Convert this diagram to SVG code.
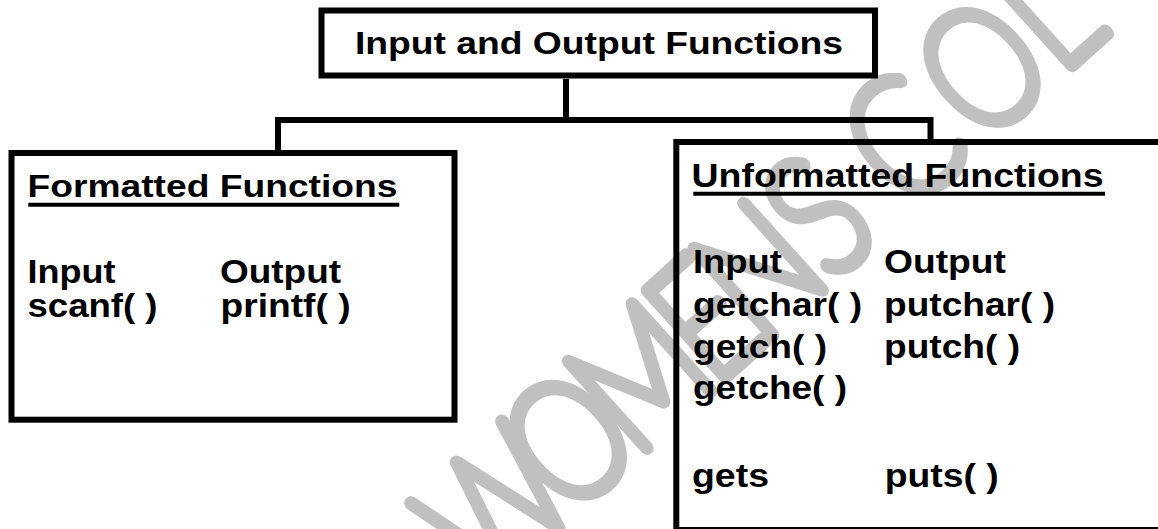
<svg xmlns="http://www.w3.org/2000/svg" width="1158" height="529" viewBox="0 0 1158 529">
  <style>
    .box { fill: none; stroke: #000; stroke-width: 6; }
    .wire { fill: none; stroke: #000; stroke-width: 6; stroke-linejoin: miter; }
    .t { font-family: "Liberation Sans", Arial, sans-serif; font-weight: bold; fill: #000; }
    .body { font-size: 32.5px; }
    .uline { stroke: #000; stroke-width: 4; }
    .mark { font-family: Lato, Inter, Roboto, sans-serif; font-weight: 100; font-size: 132px;
            fill: #c0c0c0; stroke: #c0c0c0; stroke-width: 12; stroke-linejoin: round; stroke-linecap: round; }
  </style>

  <rect width="1158" height="529" fill="#fff"/>

  <!-- background watermark, letters placed along a diagonal baseline -->
  <g id="watermark" transform="translate(567 440) rotate(-42) scale(1 1.25)">
    <text class="mark" x="-163 -51 38 144 207 302 370 406 506 610" y="47">WOMENS COL</text>
  </g>

  <!-- connectors -->
  <g id="connectors">
    <path class="wire" d="M566 79 V120"/>
    <path class="wire" d="M278 153 V120 H930.5 V142"/>
  </g>

  <g id="root">
    <rect class="box" x="321.5" y="10.5" width="553.5" height="65"/>
    <text class="t" x="355" y="54" font-size="31" textLength="488" lengthAdjust="spacingAndGlyphs">Input and Output Functions</text>
  </g>

  <g id="formatted">
    <rect class="box" x="11.5" y="153" width="443" height="266.7"/>
    <text class="t" x="27.5" y="197.3" font-size="31" textLength="370" lengthAdjust="spacingAndGlyphs">Formatted Functions</text>
    <line class="uline" x1="28.3" y1="204.7" x2="399.3" y2="204.7"/>
    <text class="t body" x="27.5" y="282.7" textLength="88" lengthAdjust="spacingAndGlyphs">Input</text>
    <text class="t body" x="220" y="282.7" textLength="121" lengthAdjust="spacingAndGlyphs">Output</text>
    <text class="t body" x="27.5" y="316.7" textLength="130" lengthAdjust="spacingAndGlyphs">scanf( )</text>
    <text class="t body" x="220.5" y="316.7" textLength="130" lengthAdjust="spacingAndGlyphs">printf( )</text>
  </g>

  <g id="unformatted">
    <rect class="box" x="676.3" y="142" width="500" height="388"/>
    <text class="t" x="691.5" y="187" font-size="33.5" textLength="412" lengthAdjust="spacingAndGlyphs">Unformatted Functions</text>
    <line class="uline" x1="693.3" y1="193.7" x2="1105" y2="193.7"/>
    <text class="t body" x="693" y="273.3" textLength="89" lengthAdjust="spacingAndGlyphs">Input</text>
    <text class="t body" x="884" y="273.3" textLength="122" lengthAdjust="spacingAndGlyphs">Output</text>
    <text class="t body" x="693" y="316" textLength="169" lengthAdjust="spacingAndGlyphs">getchar( )</text>
    <text class="t body" x="884" y="316" textLength="171" lengthAdjust="spacingAndGlyphs">putchar( )</text>
    <text class="t body" x="693" y="358.3" textLength="134" lengthAdjust="spacingAndGlyphs">getch( )</text>
    <text class="t body" x="884" y="358.3" textLength="136" lengthAdjust="spacingAndGlyphs">putch( )</text>
    <text class="t body" x="693" y="399.3" textLength="154" lengthAdjust="spacingAndGlyphs">getche( )</text>
    <text class="t body" x="692" y="486.7" textLength="77" lengthAdjust="spacingAndGlyphs">gets</text>
    <text class="t body" x="884.7" y="486.7" textLength="114" lengthAdjust="spacingAndGlyphs">puts( )</text>
  </g>
</svg>
